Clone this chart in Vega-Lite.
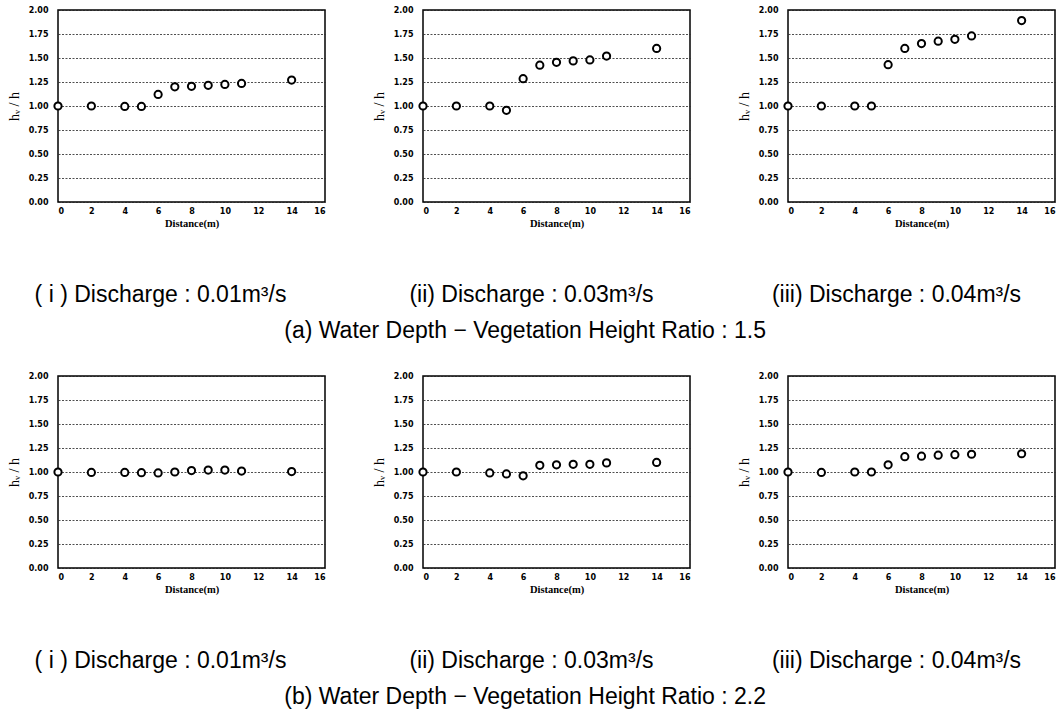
{
  "$schema": "https://vega.github.io/schema/vega-lite/v6.json",
  "background": "white",
  "padding": {"left": 6, "top": 5, "right": 5, "bottom": 5},
  "datasets": {
    "pts": [
      {"r": "a", "q": "i", "x": 0, "y": 1.0}, {"r": "a", "q": "i", "x": 2, "y": 1.0}, {"r": "a", "q": "i", "x": 4, "y": 0.995}, {"r": "a", "q": "i", "x": 5, "y": 0.995}, {"r": "a", "q": "i", "x": 6, "y": 1.12}, {"r": "a", "q": "i", "x": 7, "y": 1.2}, {"r": "a", "q": "i", "x": 8, "y": 1.205}, {"r": "a", "q": "i", "x": 9, "y": 1.215}, {"r": "a", "q": "i", "x": 10, "y": 1.225}, {"r": "a", "q": "i", "x": 11, "y": 1.235}, {"r": "a", "q": "i", "x": 14, "y": 1.27},
      {"r": "a", "q": "ii", "x": 0, "y": 1.0}, {"r": "a", "q": "ii", "x": 2, "y": 1.0}, {"r": "a", "q": "ii", "x": 4, "y": 1.0}, {"r": "a", "q": "ii", "x": 5, "y": 0.955}, {"r": "a", "q": "ii", "x": 6, "y": 1.285}, {"r": "a", "q": "ii", "x": 7, "y": 1.425}, {"r": "a", "q": "ii", "x": 8, "y": 1.455}, {"r": "a", "q": "ii", "x": 9, "y": 1.47}, {"r": "a", "q": "ii", "x": 10, "y": 1.48}, {"r": "a", "q": "ii", "x": 11, "y": 1.52}, {"r": "a", "q": "ii", "x": 14, "y": 1.6},
      {"r": "a", "q": "iii", "x": 0, "y": 1.0}, {"r": "a", "q": "iii", "x": 2, "y": 1.0}, {"r": "a", "q": "iii", "x": 4, "y": 1.0}, {"r": "a", "q": "iii", "x": 5, "y": 1.0}, {"r": "a", "q": "iii", "x": 6, "y": 1.43}, {"r": "a", "q": "iii", "x": 7, "y": 1.6}, {"r": "a", "q": "iii", "x": 8, "y": 1.65}, {"r": "a", "q": "iii", "x": 9, "y": 1.675}, {"r": "a", "q": "iii", "x": 10, "y": 1.695}, {"r": "a", "q": "iii", "x": 11, "y": 1.73}, {"r": "a", "q": "iii", "x": 14, "y": 1.89},
      {"r": "b", "q": "i", "x": 0, "y": 1.0}, {"r": "b", "q": "i", "x": 2, "y": 0.995}, {"r": "b", "q": "i", "x": 4, "y": 0.995}, {"r": "b", "q": "i", "x": 5, "y": 0.993}, {"r": "b", "q": "i", "x": 6, "y": 0.99}, {"r": "b", "q": "i", "x": 7, "y": 1.0}, {"r": "b", "q": "i", "x": 8, "y": 1.015}, {"r": "b", "q": "i", "x": 9, "y": 1.02}, {"r": "b", "q": "i", "x": 10, "y": 1.02}, {"r": "b", "q": "i", "x": 11, "y": 1.01}, {"r": "b", "q": "i", "x": 14, "y": 1.005},
      {"r": "b", "q": "ii", "x": 0, "y": 1.0}, {"r": "b", "q": "ii", "x": 2, "y": 1.0}, {"r": "b", "q": "ii", "x": 4, "y": 0.99}, {"r": "b", "q": "ii", "x": 5, "y": 0.98}, {"r": "b", "q": "ii", "x": 6, "y": 0.96}, {"r": "b", "q": "ii", "x": 7, "y": 1.07}, {"r": "b", "q": "ii", "x": 8, "y": 1.075}, {"r": "b", "q": "ii", "x": 9, "y": 1.08}, {"r": "b", "q": "ii", "x": 10, "y": 1.08}, {"r": "b", "q": "ii", "x": 11, "y": 1.095}, {"r": "b", "q": "ii", "x": 14, "y": 1.1},
      {"r": "b", "q": "iii", "x": 0, "y": 1.0}, {"r": "b", "q": "iii", "x": 2, "y": 0.995}, {"r": "b", "q": "iii", "x": 4, "y": 1.0}, {"r": "b", "q": "iii", "x": 5, "y": 1.0}, {"r": "b", "q": "iii", "x": 6, "y": 1.075}, {"r": "b", "q": "iii", "x": 7, "y": 1.16}, {"r": "b", "q": "iii", "x": 8, "y": 1.165}, {"r": "b", "q": "iii", "x": 9, "y": 1.175}, {"r": "b", "q": "iii", "x": 10, "y": 1.18}, {"r": "b", "q": "iii", "x": 11, "y": 1.185}, {"r": "b", "q": "iii", "x": 14, "y": 1.19}
    ]
  },
  "data": {"name": "pts"},
  "config": {
    "view": {"stroke": "black", "strokeWidth": 1.5},
    "axis": {"domain": false, "ticks": false, "grid": false, "labelFont": "DejaVu Sans", "labelFontWeight": "bold", "labelFontSize": 8, "labelColor": "black", "titleColor": "black"},
    "axisY": {"grid": true, "gridColor": "#222222", "gridDash": [2, 1.5], "gridWidth": 0.8, "labelPadding": 10, "titleFont": "Liberation Serif", "titleFontSize": 14, "titleFontWeight": "normal", "titlePadding": 7},
    "axisX": {"labelPadding": 5, "titleFont": "Liberation Serif", "titleFontWeight": "bold", "titleFontSize": 10.5, "titlePadding": 3},
    "title": {"orient": "bottom", "anchor": "middle", "font": "Liberation Sans", "fontSize": 23, "fontWeight": "normal", "color": "black", "offset": 55, "dx": -25},
    "concat": {"spacing": 98}
  },
  "spacing": 27,
  "vconcat": [
    {
      "title": {"text": "(a) Water Depth − Vegetation Height Ratio : 1.5", "offset": 13, "dx": -6, "fontSize": 23},
      "bounds": "flush",
      "spacing": 98,
      "hconcat": [
        {"width": 267, "height": 192, "title": {"text": "( i ) Discharge : 0.01m³/s", "dx": -31}, "transform": [{"filter": "datum.r == 'a' && datum.q == 'i'"}],
          "mark": {"type": "point", "filled": true, "fill": "white", "stroke": "black", "strokeWidth": 2, "size": 52, "opacity": 1},
          "encoding": {"x": {"field": "x", "type": "quantitative", "scale": {"domain": [0, 16]}, "axis": {"values": [0, 2, 4, 6, 8, 10, 12, 14, 16], "format": "d", "title": "Distance(m)"}},
            "y": {"field": "y", "type": "quantitative", "scale": {"domain": [0, 2]}, "axis": {"values": [0, 0.25, 0.5, 0.75, 1, 1.25, 1.5, 1.75, 2], "format": ".2f", "title": "hᵥ / h"}}}},
        {"width": 267, "height": 192, "title": {"text": "(ii) Discharge : 0.03m³/s"}, "transform": [{"filter": "datum.r == 'a' && datum.q == 'ii'"}],
          "mark": {"type": "point", "filled": true, "fill": "white", "stroke": "black", "strokeWidth": 2, "size": 52, "opacity": 1},
          "encoding": {"x": {"field": "x", "type": "quantitative", "scale": {"domain": [0, 16]}, "axis": {"values": [0, 2, 4, 6, 8, 10, 12, 14, 16], "format": "d", "title": "Distance(m)"}},
            "y": {"field": "y", "type": "quantitative", "scale": {"domain": [0, 2]}, "axis": {"values": [0, 0.25, 0.5, 0.75, 1, 1.25, 1.5, 1.75, 2], "format": ".2f", "title": "hᵥ / h"}}}},
        {"width": 267, "height": 192, "title": {"text": "(iii) Discharge : 0.04m³/s"}, "transform": [{"filter": "datum.r == 'a' && datum.q == 'iii'"}],
          "mark": {"type": "point", "filled": true, "fill": "white", "stroke": "black", "strokeWidth": 2, "size": 52, "opacity": 1},
          "encoding": {"x": {"field": "x", "type": "quantitative", "scale": {"domain": [0, 16]}, "axis": {"values": [0, 2, 4, 6, 8, 10, 12, 14, 16], "format": "d", "title": "Distance(m)"}},
            "y": {"field": "y", "type": "quantitative", "scale": {"domain": [0, 2]}, "axis": {"values": [0, 0.25, 0.5, 0.75, 1, 1.25, 1.5, 1.75, 2], "format": ".2f", "title": "hᵥ / h"}}}}
      ]
    },
    {
      "title": {"text": "(b) Water Depth − Vegetation Height Ratio : 2.2", "offset": 13, "dx": -6, "fontSize": 23},
      "bounds": "flush",
      "spacing": 98,
      "hconcat": [
        {"width": 267, "height": 192, "title": {"text": "( i ) Discharge : 0.01m³/s", "dx": -31}, "transform": [{"filter": "datum.r == 'b' && datum.q == 'i'"}],
          "mark": {"type": "point", "filled": true, "fill": "white", "stroke": "black", "strokeWidth": 2, "size": 52, "opacity": 1},
          "encoding": {"x": {"field": "x", "type": "quantitative", "scale": {"domain": [0, 16]}, "axis": {"values": [0, 2, 4, 6, 8, 10, 12, 14, 16], "format": "d", "title": "Distance(m)"}},
            "y": {"field": "y", "type": "quantitative", "scale": {"domain": [0, 2]}, "axis": {"values": [0, 0.25, 0.5, 0.75, 1, 1.25, 1.5, 1.75, 2], "format": ".2f", "title": "hᵥ / h"}}}},
        {"width": 267, "height": 192, "title": {"text": "(ii) Discharge : 0.03m³/s"}, "transform": [{"filter": "datum.r == 'b' && datum.q == 'ii'"}],
          "mark": {"type": "point", "filled": true, "fill": "white", "stroke": "black", "strokeWidth": 2, "size": 52, "opacity": 1},
          "encoding": {"x": {"field": "x", "type": "quantitative", "scale": {"domain": [0, 16]}, "axis": {"values": [0, 2, 4, 6, 8, 10, 12, 14, 16], "format": "d", "title": "Distance(m)"}},
            "y": {"field": "y", "type": "quantitative", "scale": {"domain": [0, 2]}, "axis": {"values": [0, 0.25, 0.5, 0.75, 1, 1.25, 1.5, 1.75, 2], "format": ".2f", "title": "hᵥ / h"}}}},
        {"width": 267, "height": 192, "title": {"text": "(iii) Discharge : 0.04m³/s"}, "transform": [{"filter": "datum.r == 'b' && datum.q == 'iii'"}],
          "mark": {"type": "point", "filled": true, "fill": "white", "stroke": "black", "strokeWidth": 2, "size": 52, "opacity": 1},
          "encoding": {"x": {"field": "x", "type": "quantitative", "scale": {"domain": [0, 16]}, "axis": {"values": [0, 2, 4, 6, 8, 10, 12, 14, 16], "format": "d", "title": "Distance(m)"}},
            "y": {"field": "y", "type": "quantitative", "scale": {"domain": [0, 2]}, "axis": {"values": [0, 0.25, 0.5, 0.75, 1, 1.25, 1.5, 1.75, 2], "format": ".2f", "title": "hᵥ / h"}}}}
      ]
    }
  ]
}
